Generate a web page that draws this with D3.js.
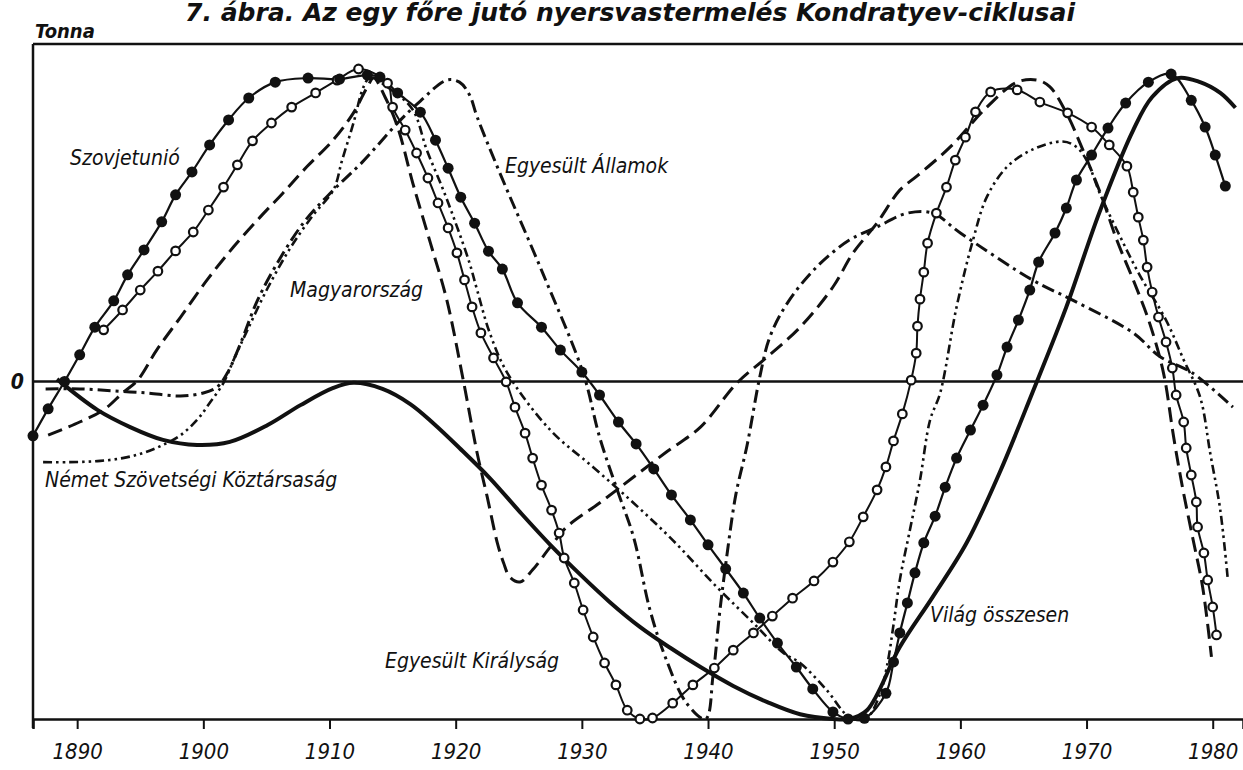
<!DOCTYPE html>
<html>
<head>
<meta charset="utf-8">
<script src="https://cdn.jsdelivr.net/npm/d3@7"></script>
<style>
  body { margin: 0; background: #fff; }
  svg { display: block; }
  text { font-family: "DejaVu Sans Condensed", "Liberation Sans Narrow", sans-serif; font-style: italic; fill: #111; }
  .title { font-weight: bold; font-size: 24px; }
  .unit { font-weight: bold; font-size: 20px; }
  .label { font-size: 21px; }
  .tick text { font-size: 22px; }
</style>
</head>
<body>
<svg></svg>
<script>
const svg = d3.select("svg");
svg.attr("width", 1243).attr("height", 770);

// évek a vízszintes tengelyen
const tickYears = [1890, 1900, 1910, 1920, 1930, 1940, 1950, 1960, 1970, 1980];

// [év, eltérés a trendtől, %]
const sovietUnion = [
  [1886.5, -16.1], [1887.7, -8.1], [1889.0, 0], [1890.2, 7.9], [1891.4, 16.1], [1892.9, 23.9],
  [1894.0, 31.6], [1895.3, 39.0], [1896.7, 47.3], [1897.8, 55.3], [1899.1, 62.1], [1900.5, 70.1],
  [1902.0, 77.5], [1903.6, 84.0], [1905.7, 88.7], [1908.3, 89.9], [1910.8, 89.6], [1913.0, 90.8],
  [1914.0, 90.2], [1915.4, 85.5], [1917.2, 79.8], [1918.4, 71.5], [1919.4, 63.2], [1920.4, 54.6],
  [1921.5, 46.9], [1922.6, 38.6], [1923.7, 33.3], [1924.9, 23.3], [1926.8, 16.1], [1928.3, 9.3],
  [1930.0, 2.8], [1931.4, -4.0], [1932.9, -12.0], [1934.3, -18.5], [1935.7, -25.9], [1937.1, -33.6],
  [1938.6, -41.0], [1940.0, -48.4], [1941.4, -55.5], [1942.8, -62.7], [1944.1, -70.1], [1945.5, -77.5],
  [1947.0, -84.6], [1948.3, -91.1], [1949.9, -97.9], [1951.1, -100], [1952.4, -99.8], [1954.1, -92.4],
  [1954.7, -83.1], [1955.2, -74.5], [1955.8, -65.6], [1956.4, -56.7], [1957.1, -47.8], [1958.0, -39.9],
  [1958.8, -31.3], [1959.7, -22.7], [1960.8, -14.4], [1961.8, -7.0], [1962.9, 1.9], [1963.7, 10.2],
  [1964.6, 18.2], [1965.5, 27.1], [1966.2, 35.4], [1967.5, 44.0], [1968.4, 51.4], [1969.2, 59.7],
  [1970.4, 67.1], [1971.7, 75.1], [1973.1, 82.5], [1974.9, 88.7], [1976.7, 91.1], [1978.3, 83.3],
  [1979.4, 75.4], [1980.2, 67.1], [1981.0, 57.9]
];

const unitedKingdom = [
  [1892.1, 15.3], [1893.6, 21.2], [1895.0, 27.1], [1896.4, 32.7], [1897.8, 38.7], [1899.2, 44.3],
  [1900.4, 50.8], [1901.6, 57.6], [1902.7, 64.2], [1903.9, 71.3], [1905.4, 76.6], [1907.0, 81.3],
  [1908.9, 85.5], [1910.6, 89.3], [1912.3, 92.6], [1914.6, 88.4], [1915.0, 81.3], [1916.0, 74.5],
  [1916.9, 67.7], [1917.8, 60.3], [1918.6, 52.9], [1919.4, 45.5], [1920.1, 38.1], [1920.7, 30.1],
  [1921.3, 22.1], [1922.0, 14.4], [1923.0, 7.0], [1924.0, -0.1], [1924.7, -7.6], [1925.5, -15.3],
  [1926.1, -22.7], [1926.8, -30.7], [1927.6, -38.1], [1928.2, -44.9], [1928.6, -52.3], [1929.4, -59.7],
  [1930.1, -67.7], [1930.9, -75.7], [1931.8, -83.4], [1932.7, -89.9], [1933.6, -97.4], [1934.6, -100],
  [1935.6, -99.7], [1937.2, -95.3], [1938.8, -89.9], [1940.5, -84.9], [1942.0, -79.6], [1943.6, -74.5],
  [1945.1, -69.5], [1946.7, -64.2], [1948.4, -59.1], [1949.9, -53.5], [1951.2, -47.5], [1952.3, -40.1],
  [1953.4, -32.1], [1954.1, -25.3], [1954.7, -17.6], [1955.4, -9.6], [1956.1, 0.4], [1956.5, 8.4],
  [1956.6, 16.4], [1956.8, 24.4], [1957.1, 32.4], [1957.4, 41.0], [1958.1, 49.9], [1958.9, 57.6],
  [1959.6, 65.6], [1960.4, 72.4], [1961.2, 79.9], [1962.4, 85.8], [1964.5, 86.4], [1966.3, 82.8],
  [1968.5, 79.6], [1970.4, 75.4], [1971.8, 70.1], [1973.2, 63.8], [1973.7, 56.1], [1974.1, 48.7],
  [1974.5, 41.9], [1974.8, 33.9], [1975.2, 26.5], [1975.7, 19.1], [1976.3, 11.7], [1976.8, 4.0],
  [1977.1, -4.0], [1977.7, -12.0], [1977.9, -19.7], [1978.3, -27.7], [1978.7, -35.7], [1978.8, -43.1],
  [1979.3, -50.8], [1979.6, -58.8], [1980.0, -66.8], [1980.3, -75.1]
];

const worldTotal = [
  [1888.4, 0.7], [1891.6, -8.4], [1894.2, -13.5], [1896.8, -17.3], [1899.5, -18.8], [1902.1, -17.9],
  [1905.1, -12.9], [1907.7, -7.0], [1910.3, -1.9], [1911.9, -0.4], [1914.2, -2.2], [1916.4, -6.7],
  [1918.2, -12.3], [1920.3, -19.7], [1922.7, -28.6], [1925.1, -38.7], [1927.5, -48.4], [1929.9, -57.3],
  [1932.2, -65.3], [1934.6, -72.7], [1937.0, -78.9], [1939.4, -84.6], [1942.0, -90.2], [1944.7, -95.0],
  [1947.3, -98.6], [1949.9, -100], [1951.2, -100], [1952.6, -97.4], [1955.2, -78.7], [1957.8, -63.9],
  [1960.5, -47.8], [1963.1, -27.1], [1965.7, -3.4], [1968.4, 22.1], [1971.0, 49.9], [1973.7, 74.5],
  [1975.2, 84.3], [1977.2, 89.9], [1979.0, 88.7], [1980.6, 85.5], [1981.8, 81.1]
];

const unitedStates = [
  [1887.5, -2.2], [1890.2, -2.2], [1892.9, -2.8], [1895.5, -3.4], [1898.2, -4.3], [1900.0, -3.4],
  [1901.1, -1.6], [1901.9, 2.5], [1902.9, 10.8], [1904.3, 24.1], [1906.1, 36.6], [1908.1, 47.8],
  [1910.3, 56.7], [1912.6, 65.0], [1915.4, 76.6], [1917.2, 83.1], [1919.3, 89.3], [1920.3, 88.7],
  [1921.1, 84.9], [1921.7, 78.4], [1923.5, 61.8], [1926.9, 32.1], [1930.1, 2.5], [1931.4, -16.4],
  [1932.8, -32.1], [1934.1, -46.1], [1935.4, -67.7], [1936.7, -82.5], [1938.3, -95.3], [1939.8, -100],
  [1940.4, -87.0], [1940.9, -69.2], [1941.5, -51.4], [1942.2, -33.6], [1943.1, -18.8], [1944.1, 1.3],
  [1944.9, 13.2], [1946.3, 23.3], [1948.6, 33.9], [1951.2, 41.9], [1953.4, 45.8], [1955.8, 49.9],
  [1957.8, 49.9], [1960.0, 44.0], [1965.7, 30.1], [1968.9, 24.1], [1973.7, 14.4], [1975.8, 7.4],
  [1978.4, 2.5], [1981.6, -7.6]
];

const hungary = [
  [1887.7, -15.9], [1890.2, -12.0], [1892.1, -8.4], [1893.6, -3.4], [1894.8, 0.4], [1896.3, 9.3],
  [1898.2, 19.1], [1900.3, 30.1], [1902.4, 39.9], [1904.5, 48.7], [1906.3, 55.8], [1908.2, 63.6],
  [1910.3, 71.6], [1911.9, 79.6], [1913.0, 87.3], [1913.5, 89.9], [1914.4, 84.3], [1915.4, 75.4],
  [1916.6, 58.8], [1918.0, 41.0], [1919.3, 24.1], [1920.6, 0.4], [1921.7, -21.2], [1922.5, -34.2],
  [1923.3, -47.8], [1923.8, -53.8], [1924.3, -58.0], [1925.1, -59.4], [1926.1, -55.8], [1927.5, -49.0],
  [1928.8, -43.1], [1931.4, -36.0], [1934.1, -28.3], [1936.7, -20.9], [1939.4, -13.5], [1942.3, -0.4],
  [1944.7, 7.3], [1947.3, 16.1], [1949.9, 28.0], [1951.5, 38.1], [1953.4, 47.0], [1955.2, 56.7],
  [1956.6, 61.0], [1959.2, 69.5], [1962.1, 81.3], [1964.5, 88.7], [1966.1, 89.3], [1967.1, 87.3],
  [1968.4, 79.6], [1969.7, 68.7], [1971.1, 55.8], [1972.4, 41.9], [1973.7, 30.1], [1975.0, 17.3],
  [1976.1, 2.5], [1976.9, -16.4], [1977.6, -31.3], [1978.4, -46.1], [1979.2, -60.9], [1979.9, -81.6]
];

const westGermany = [
  [1887.3, -23.9], [1889.4, -23.9], [1891.6, -23.6], [1893.6, -22.7], [1895.2, -21.2], [1896.8, -18.8],
  [1898.2, -15.9], [1899.5, -11.4], [1900.5, -6.4], [1901.6, -0.4], [1902.4, 6.4], [1903.5, 15.3],
  [1905.1, 27.7], [1906.9, 39.6], [1908.7, 49.3], [1910.3, 56.7], [1911.0, 65.6], [1911.9, 76.6],
  [1912.7, 87.3], [1913.2, 89.9], [1914.9, 86.4], [1916.6, 80.5], [1917.7, 68.7], [1919.0, 56.9],
  [1920.1, 45.9], [1921.1, 35.1], [1921.7, 27.1], [1922.7, 14.4], [1924.1, 2.5], [1927.5, -14.4],
  [1930.9, -25.4], [1934.1, -36.0], [1937.2, -47.0], [1940.7, -60.9], [1943.6, -71.6], [1946.0, -80.5],
  [1947.3, -83.4], [1949.4, -91.4], [1951.2, -99.4], [1952.5, -100], [1953.6, -92.9], [1954.2, -84.0],
  [1954.7, -72.1], [1955.2, -58.8], [1956.0, -44.0], [1956.8, -29.2], [1957.6, -11.4], [1958.4, -3.4],
  [1959.7, 22.1], [1961.0, 41.9], [1962.1, 54.7], [1963.7, 63.6], [1965.7, 68.7], [1968.1, 71.1],
  [1969.2, 69.5], [1970.0, 65.6], [1971.1, 55.3], [1972.6, 43.4], [1974.2, 31.6], [1976.3, 18.2],
  [1977.7, 6.4], [1979.0, -4.6], [1979.8, -21.2], [1980.6, -38.1], [1981.2, -58.8]
];

const seriesNames = ["Szovjetunió", "Egyesült Államok", "Magyarország",
  "Német Szövetségi Köztársaság", "Egyesült Királyság", "Világ összesen"];

const render = () => {
  const margin = { left: 33, right: 0, top: 44, bottom: 51 };
  const width = 1243;
  const height = 770;
  const graphWidth = width - margin.left - margin.right;
  const graphHeight = height - margin.top - margin.bottom;

  const xScale = d3.scaleLinear().domain([1886.5, 1982.4]).range([0, graphWidth]);
  const yScale = d3.scaleLinear().domain([-100, 100]).range([graphHeight, 0]);

  svg.append("text")
    .attr("class", "title")
    .attr("x", 185)
    .attr("y", 21)
    .attr("textLength", 890)
    .attr("lengthAdjust", "spacingAndGlyphs")
    .text("7. ábra. Az egy főre jutó nyersvastermelés Kondratyev-ciklusai");

  svg.append("text").attr("class", "unit").attr("x", 35).attr("y", 38).text("Tonna");

  const g = svg.append("g").attr("transform", `translate(${margin.left}, ${margin.top})`);

  // keret: felső vonal, nullvonal
  g.append("line").attr("x1", 0).attr("x2", graphWidth)
    .attr("y1", 0).attr("y2", 0).attr("stroke", "#111").attr("stroke-width", 2.5);
  g.append("line").attr("x1", 0).attr("x2", graphWidth)
    .attr("y1", yScale(0)).attr("y2", yScale(0)).attr("stroke", "#111").attr("stroke-width", 2.5);

  const xAxis = d3.axisBottom(xScale).tickValues(tickYears).tickSize(10).tickPadding(14)
    .tickFormat(d3.format("d"));
  const xAxisG = g.append("g").attr("transform", `translate(0, ${graphHeight})`).call(xAxis);
  xAxisG.select(".domain").attr("stroke", "#111").attr("stroke-width", 2.5);
  xAxisG.selectAll(".tick line").attr("stroke", "#111").attr("stroke-width", 2);
  xAxisG.selectAll(".tick text").attr("fill", "#111");

  const yAxis = d3.axisLeft(yScale).tickValues([0]).tickSize(0).tickPadding(9);
  const yAxisG = g.append("g").call(yAxis);
  yAxisG.select(".domain").remove();
  yAxisG.selectAll(".tick text").attr("fill", "#111")
    .style("font-size", "21px").style("font-weight", "bold");
  g.append("line").attr("x1", 0).attr("x2", 0).attr("y1", 0).attr("y2", graphHeight + 9)
    .attr("stroke", "#111").attr("stroke-width", 2.5);

  const lineGenerator = d3.line()
    .x((d) => xScale(d[0]))
    .y((d) => yScale(d[1]))
    .curve(d3.curveCatmullRom.alpha(0.5));

  const drawLine = (data, width, dash) => {
    g.append("path")
      .attr("d", lineGenerator(data))
      .attr("fill", "none")
      .attr("stroke", "#111")
      .attr("stroke-width", width)
      .attr("stroke-dasharray", dash)
      .attr("stroke-linejoin", "round");
  };

  drawLine(worldTotal, 4, null);
  drawLine(hungary, 3, "15,7");
  drawLine(unitedStates, 3, "13,5,3,5");
  drawLine(westGermany, 2.6, "9,4,2.5,4,2.5,4");
  drawLine(unitedKingdom, 2, null);
  drawLine(sovietUnion, 2.2, null);

  g.selectAll(".uk-dot")
    .data(unitedKingdom)
    .join("circle")
    .attr("class", "uk-dot")
    .attr("cx", (d) => xScale(d[0]))
    .attr("cy", (d) => yScale(d[1]))
    .attr("r", 4.3)
    .attr("fill", "#fff")
    .attr("stroke", "#111")
    .attr("stroke-width", 2.2);

  g.selectAll(".su-dot")
    .data(sovietUnion)
    .join("circle")
    .attr("class", "su-dot")
    .attr("cx", (d) => xScale(d[0]))
    .attr("cy", (d) => yScale(d[1]))
    .attr("r", 5.5)
    .attr("fill", "#111");

  // sorozatnevek
  const labelPos = [[70, 165], [505, 173], [290, 297], [45, 487], [385, 668], [930, 622]];
  svg.selectAll(".label")
    .data(seriesNames)
    .join("text")
    .attr("class", "label")
    .attr("x", (d, i) => labelPos[i][0])
    .attr("y", (d, i) => labelPos[i][1])
    .text((d) => d);
};

render();
</script>
</body>
</html>
